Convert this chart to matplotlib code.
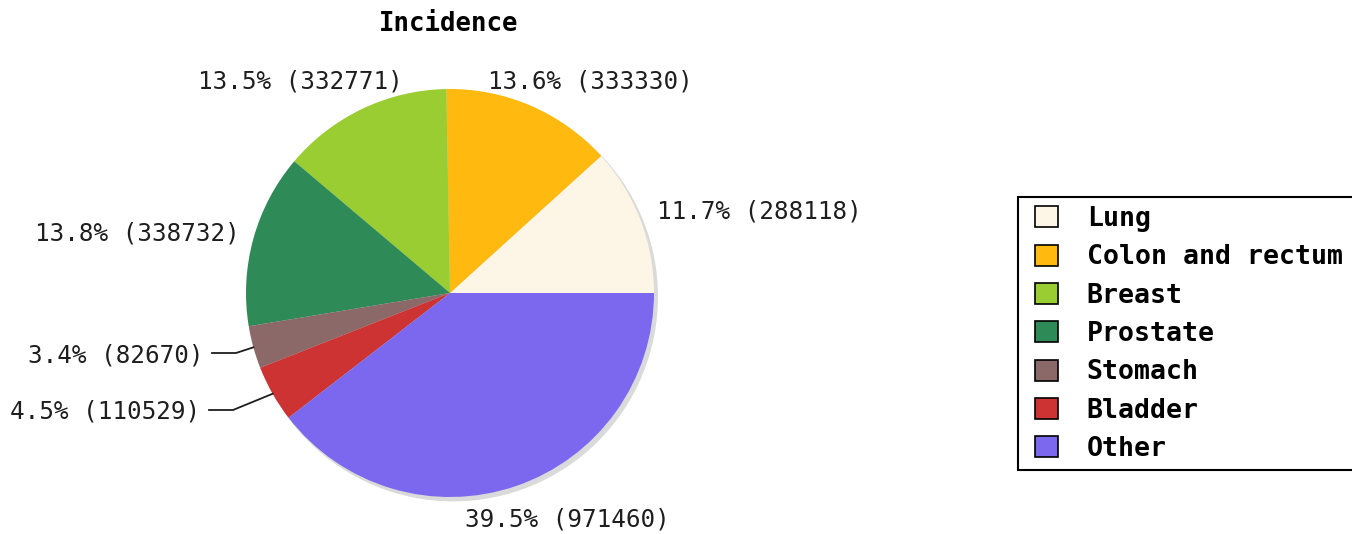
import numpy as np
import matplotlib.pyplot as plt
from matplotlib.patches import Rectangle, Circle

categories = ['Lung', 'Colon and rectum', 'Breast', 'Prostate', 'Stomach', 'Bladder', 'Other']
cases = [288118, 333330, 332771, 338732, 82670, 110529, 971460]
colors = ['#fdf5e6', '#ffb90f', '#9acd32', '#2e8b57', '#8b6969', '#cd3333', '#7b68ee']

# figure is 1352x534 px, pie centre at px (450, 293), radius 204 px
W, H, DPI = 1352, 534, 100
cx, cy, R = 450, 293, 204

fig = plt.figure(figsize=(W / DPI, H / DPI), dpi=DPI)
ax = fig.add_axes([0, 0, 1, 1])

total = sum(cases)
pct = [100.0 * v / total for v in cases]

# soft shadow behind the pie
ax.add_patch(Circle((0.016, -0.018), 1.0, color='#dadada', zorder=0))
wedges, _ = ax.pie(cases, colors=colors, startangle=0, counterclock=True,
                   radius=1.0, center=(0, 0), wedgeprops=dict(linewidth=0))
for w in wedges:
    w.set_zorder(1)

# label anchor (pixel x, pixel y, alignment)
label_pos = [(657, 212, 'left'), (488, 82, 'left'), (403, 82, 'right'),
             (240, 234, 'right'), (203, 355, 'right'), (200, 412, 'right'),
             (567, 520, 'center')]

def px(x, y):
    return (x - cx) / R, (cy - y) / R

font = dict(family='DejaVu Sans Mono', fontsize=17.5, color='#1e1e1e')
for w, p, v, (lx, ly, ha) in zip(wedges, pct, cases, label_pos):
    tx, ty = px(lx, ly)
    ax.text(tx, ty, '%.1f%% (%d)' % (p, v), ha=ha, va='center', **font)

# leader lines for the two thin slices
for i in (4, 5):
    w = wedges[i]
    mid = np.deg2rad((w.theta1 + w.theta2) / 2)
    ex, ey = np.cos(mid), np.sin(mid)
    lx, ly, _ = label_pos[i]
    sx, sy = px(lx + 9, ly - 2)
    kx, ky = px(lx + 33, ly - 2)
    ax.plot([sx, kx, ex], [sy, ky, ey], color='#1e1e1e', lw=1.3, zorder=2)

ax.set_xlim(-cx / R, (W - cx) / R)
ax.set_ylim((cy - H) / R, cy / R)
ax.set_aspect('equal')
ax.axis('off')

tx, ty = px(449, 24)
ax.text(tx, ty, 'Incidence', ha='center', va='center',
        family='DejaVu Sans Mono', fontweight='bold', fontsize=18.5)

# legend frame, running off the right edge like the original
fig.patches.append(Rectangle((1018 / W, 1 - 470 / H), 400 / W, 273 / H,
                             transform=fig.transFigure, facecolor='white',
                             edgecolor='black', lw=1.5, zorder=0))

handles = [Rectangle((0, 0), 1, 1, facecolor=c, edgecolor='black', lw=1.2) for c in colors]
leg = fig.legend(handles, categories, loc='upper left',
                 bbox_to_anchor=(1035 / W, 1 - 206 / H), borderaxespad=0,
                 prop=dict(family='DejaVu Sans Mono', weight='bold', size=19.1),
                 frameon=False, handlelength=0.85, handleheight=0.85,
                 handletextpad=1.1, borderpad=0, labelspacing=0.465)

fig.savefig('out.png', dpi=DPI)
